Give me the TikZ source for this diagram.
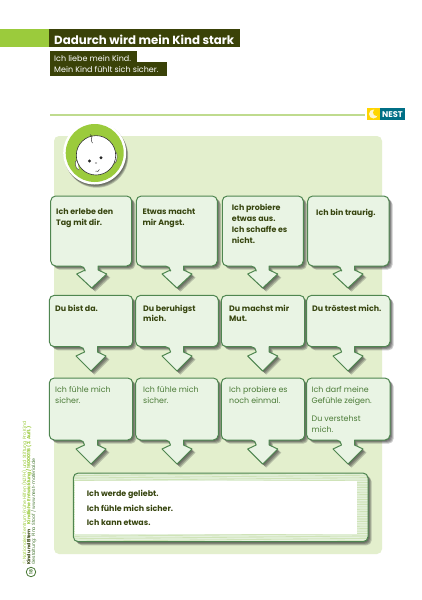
\documentclass[tikz,border=0pt]{standalone}
\usepackage{fontspec}
\setmainfont{Poppins}
\usetikzlibrary{calc}
\definecolor{bandgreen}{HTML}{9BCB3C}
\definecolor{headdark}{HTML}{3A4208}
\definecolor{panel}{HTML}{E3EFCD}
\definecolor{boxfill}{HTML}{E9F4E4}
\definecolor{boxline}{HTML}{4F8650}
\definecolor{rulegreen}{HTML}{BFDB8E}
\definecolor{txtdark}{HTML}{37450F}
\definecolor{txtgreen}{HTML}{4A7A36}
\definecolor{stripe}{HTML}{CFE3B8}
\definecolor{nestteal}{HTML}{006F86}
\definecolor{nestyellow}{HTML}{FFD500}
\tikzset{
  x=1pt,y=-1pt,
  boxshape/.style={draw=boxline,fill=boxfill,line width=1pt,line join=round},
  shadowshape/.style={fill=black!80,opacity=0.26,draw=none},
  boxtext/.style={anchor=north west,inner sep=0pt,align=left,text=txtdark,font=\fontsize{7.9}{10.9}\selectfont\bfseries},
  softtext/.style={boxtext,text=txtgreen,font=\fontsize{7.9}{11.1}\selectfont},
  headtext/.style={anchor=base west,inner sep=0pt,text=white,font=\fontsize{11.8}{14}\selectfont\bfseries},
  subtext/.style={anchor=base west,inner sep=0pt,text=white,font=\fontsize{8}{10}\selectfont},
  sidetext/.style={anchor=base west,inner sep=0pt,rotate=90,font=\fontsize{4.6}{5}\selectfont},
}
% x1 y1 x2 y2 cx wingy tipy
\newcommand{\calloutpath}[7]{
  (#5+6.5,#4) [rounded corners=5pt] -- (#3,#4) -- (#3,#2) -- (#1,#2) -- (#1,#4) -- (#5-6.5,#4)
  [sharp corners] -- (#5-6.5,#6-4) -- (#5-15,#6) -- (#5,#7) -- (#5+15,#6) -- (#5+6.5,#6-4) -- cycle
}
\newcommand{\callout}[7]{
  \foreach \d in {1,2,3,4}{
    \fill[shadowshape,shift={(\d*0.9pt,-\d*0.9pt)}] \calloutpath{#1}{#2}{#3}{#4}{#5}{#6}{#7};
  }
  \draw[boxshape] \calloutpath{#1}{#2}{#3}{#4}{#5}{#6}{#7};
}
\begin{document}
\begin{tikzpicture}
\useasboundingbox (0,0) rectangle (422,600);
\fill[white] (0,0) rectangle (422,600);
% header
\fill[bandgreen] (0,29.3) rectangle (49.3,47.3);
\fill[headdark] (49.3,29.3) rectangle (240.3,47.3);
\fill[headdark] (49.5,50.7) rectangle (136.7,62);
\fill[headdark] (49.5,61.7) rectangle (166.7,76.3);
\node[headtext] (title) at (54,44) {Dadurch wird mein Kind stark};
\node[subtext] (sub1) at (54,61.3) {Ich liebe mein Kind.};
\node[subtext] (sub2) at (54,72.5) {Mein Kind fühlt sich sicher.};
% rule and logo
\draw[rulegreen,line width=1.3pt] (50,115) -- (365,115);
\fill[nestyellow] (367.3,107.7) rectangle (380,120.3);
\fill[nestteal] (380,107.7) rectangle (405,120.3);
\fill[white,opacity=0.8] (373.5,114) circle (4.5);
\fill[nestyellow] (376.5,112.5) circle (3.5);
\node[anchor=base,inner sep=0pt,text=white,font=\fontsize{8.3}{9}\selectfont\bfseries] (nest) at (392.5,117.4) {NEST};
% panel
\fill[panel,rounded corners=5pt] (54,136) rectangle (382,554);
% badge
\foreach \d in {1,2,3,4}{
  \fill[shadowshape,shift={(\d*0.5pt,-\d*0.8pt)}] (94.7,153) circle (31.5);
}
\fill[white] (94.7,153) circle (31.5);
\fill[bandgreen] (94.7,153) circle (29);
\draw[black!70,fill=white,line width=0.5pt] (115,152) .. controls (118,151) and (118,162) .. (114.5,163.5);
\draw[black!70,fill=white,line width=0.5pt] (77,160) .. controls (74,161) and (75,169) .. (79,170);
\draw[black!80,fill=white,line width=0.6pt] (96,155.3) circle (19.7);
\draw[black!80,line width=0.5pt] (90,134.5) .. controls (93,135) and (92,138) .. (91.3,139) .. controls (91,141) and (92,142) .. (92.5,143);
\fill[black!85] (89.5,161) circle (1.6);
\fill[black!85] (101,157.7) circle (1.6);
\fill[black!70] (96,163) ellipse (1.2 and 0.6);
\draw[black!80,line width=0.5pt] (95.5,171) .. controls (97,172) and (99,171.5) .. (99.5,169.5);
% row 1
\callout{50.7}{196}{131.7}{266}{91.7}{274}{288}
\callout{136.3}{196}{217.3}{266}{177}{274}{288}
\callout{222.3}{196}{303.3}{266}{262.7}{274}{288}
\callout{307.7}{196}{389}{266}{348}{274}{288}
% row 2
\callout{49.3}{295.3}{132.7}{346.7}{91}{356}{371}
\callout{135.7}{295.3}{218.3}{346.7}{177}{356}{371}
\callout{221.3}{295.3}{304.7}{346.7}{262.7}{356}{371}
\callout{306.7}{295.3}{390}{346.7}{348}{356}{371}
% row 3
\callout{49.3}{378}{132.7}{440}{91}{449}{464}
\callout{135.7}{378}{218.3}{440}{177}{449}{464}
\callout{221.3}{378}{304.7}{440}{262.7}{449}{464}
\callout{306.7}{378}{390}{440}{348}{449}{464}
% bottom box
\foreach \d in {1,2,3,4}{
  \fill[shadowshape,rounded corners=5pt,shift={(\d*0.9pt,-\d*0.9pt)}] (73.3,473) rectangle (368,541.7);
}
\fill[boxfill,rounded corners=5pt] (73.3,473) rectangle (368,541.7);
\begin{scope}
  \clip[rounded corners=5pt] (73.3,473) rectangle (368,541.7);
  \foreach \s in {0,1.7,...,70}{
    \draw[stripe,line width=0.8pt] (73,472+\s) -- (368,474+\s);
  }
\end{scope}
\fill[white] (75,480.7) rectangle (356.7,534.3);
\draw[boxline,line width=1pt,rounded corners=5pt] (73.3,473) rectangle (368,541.7);
% texts
\node[boxtext] (a1) at (56,208.5) {Ich erlebe den\\Tag mit dir.};
\node[boxtext] (a2) at (142.3,208.5) {Etwas macht\\mir Angst.};
\node[boxtext] (a3) at (231.7,204) {Ich probiere\\etwas aus.\\Ich schaffe es\\nicht.};
\node[boxtext] (a4) at (316,208.5) {Ich bin traurig.};
\node[boxtext] (b1) at (55,304.5) {Du bist da.};
\node[boxtext] (b2) at (143,304.5) {Du beruhigst\\mich.};
\node[boxtext] (b3) at (229,304.5) {Du machst mir\\Mut.};
\node[boxtext] (b4) at (312,304.5) {Du tröstest mich.};
\node[softtext] (c1) at (55,386.3) {Ich fühle mich\\sicher.};
\node[softtext] (c2) at (143,386.3) {Ich fühle mich\\sicher.};
\node[softtext] (c3) at (229,386.3) {Ich probiere es\\noch einmal.};
\node[softtext] (c4) at (311.5,386.3) {Ich darf meine\\Gefühle zeigen.\\[6.5pt]Du verstehst\\mich.};
\node[boxtext] (d1) at (86.7,490) {Ich werde geliebt.};
\node[boxtext] (d2) at (86.7,505) {Ich fühle mich sicher.};
\node[boxtext] (d3) at (86.7,519) {Ich kann etwas.};
% side text
\node[sidetext,text=bandgreen] (s1) at (26,565) {© Nationales Zentrum Frühe Hilfen (NZFH) und Stiftung Pro Kind};
\node[sidetext,text=txtdark] (s2) at (30.5,565) {\bfseries Kind und Eltern\quad\textcolor{bandgreen}{Kindliche Entwicklung / 16000116 (2. Aufl.)}};
\node[sidetext,text=txtgreen] (s3) at (35,565) {Gestaltung: Pina Stoof / www.nest-material.de};
\node[circle,draw=txtgreen,line width=0.8pt,inner sep=0pt,minimum size=9.5pt,text=txtgreen,font=\fontsize{4.5}{5}\selectfont\bfseries,rotate=90] (pg) at (31,572) {18};
\end{tikzpicture}
\end{document}
